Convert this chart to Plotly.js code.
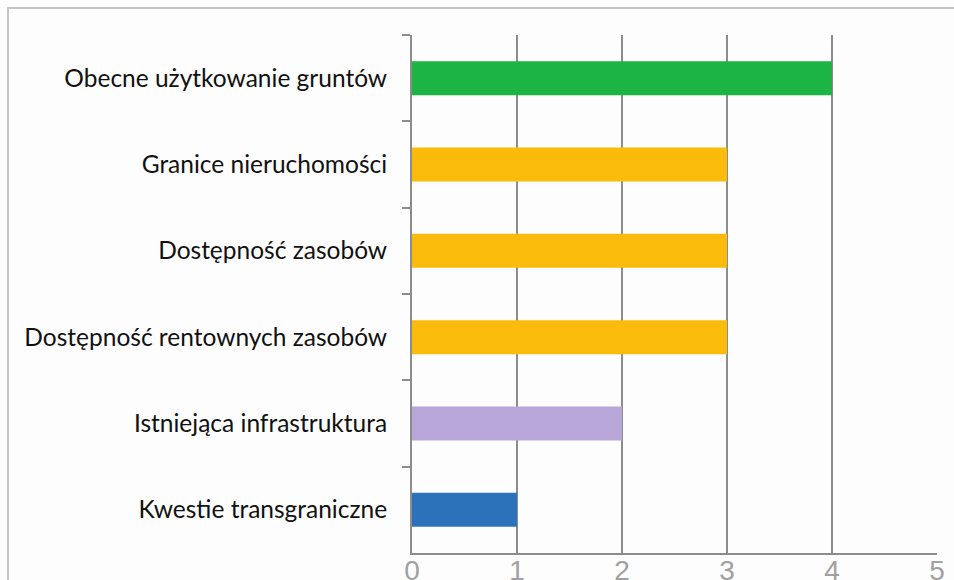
<!DOCTYPE html>
<html>
<head>
<meta charset="utf-8">
<script src="https://cdn.plot.ly/plotly-3.0.1.min.js"></script>
<style>
  html, body { margin: 0; padding: 0; background: #fdfdfd; overflow: hidden; }
  #wrap { position: relative; width: 954px; height: 580px; }
  #chart { position: absolute; left: 0; top: 0; width: 954px; height: 580px; }
  #frame { position: absolute; left: 7px; top: 7px; width: 960px; height: 600px;
           border-top: 2px solid #c4c4c4; border-left: 2px solid #c4c4c4; pointer-events: none; }
</style>
</head>
<body>
<div id="wrap">
  <div id="chart"></div>
  <div id="frame"></div>
</div>
<script>
const categories = [
  "Obecne użytkowanie gruntów",
  "Granice nieruchomości",
  "Dostępność zasobów",
  "Dostępność rentownych zasobów",
  "Istniejąca infrastruktura",
  "Kwestie transgraniczne"
];
const values = [4, 3, 3, 3, 2, 1];
const barColors = ["#1db446", "#fbbb0b", "#fbbb0b", "#fbbb0b", "#b9a6d9", "#2b72ba"];
const xTicks = [0, 1, 2, 3, 4, 5];

const trace = {
  type: "bar",
  orientation: "h",
  y: categories,
  x: values,
  marker: { color: barColors, line: { width: 0 } },
  hoverinfo: "x+y"
};

const layout = {
  width: 954,
  height: 580,
  margin: { l: 412, r: 17, t: 35, b: 27 },
  paper_bgcolor: "rgba(0,0,0,0)",
  plot_bgcolor: "rgba(0,0,0,0)",
  bargap: 0.606,
  showlegend: false,
  xaxis: {
    range: [0, 5],
    tickvals: xTicks,
    ticktext: xTicks.map(String),
    showgrid: true,
    gridcolor: "#8c8c8c",
    gridwidth: 2,
    zeroline: false,
    showline: true,
    linecolor: "#8c8c8c",
    linewidth: 2,
    ticks: "",
    tickfont: { family: "Liberation Sans, Arial, sans-serif", size: 28, color: "#a0a0a0" },
    ticklabelstandoff: -9,
    fixedrange: true
  },
  yaxis: {
    type: "category",
    categoryorder: "array",
    categoryarray: categories,
    autorange: "reversed",
    showgrid: false,
    zeroline: false,
    showline: true,
    linecolor: "#8c8c8c",
    linewidth: 2,
    ticks: "outside",
    tickson: "boundaries",
    ticklen: 8,
    tickwidth: 2,
    tickcolor: "#8c8c8c",
    ticklabelstandoff: 18,
    tickfont: { family: "Lato, Open Sans, sans-serif", size: 24.5, color: "#111111" },
    fixedrange: true
  }
};

Plotly.newPlot("chart", [trace], layout, { displayModeBar: false, staticPlot: true });
</script>
</body>
</html>
